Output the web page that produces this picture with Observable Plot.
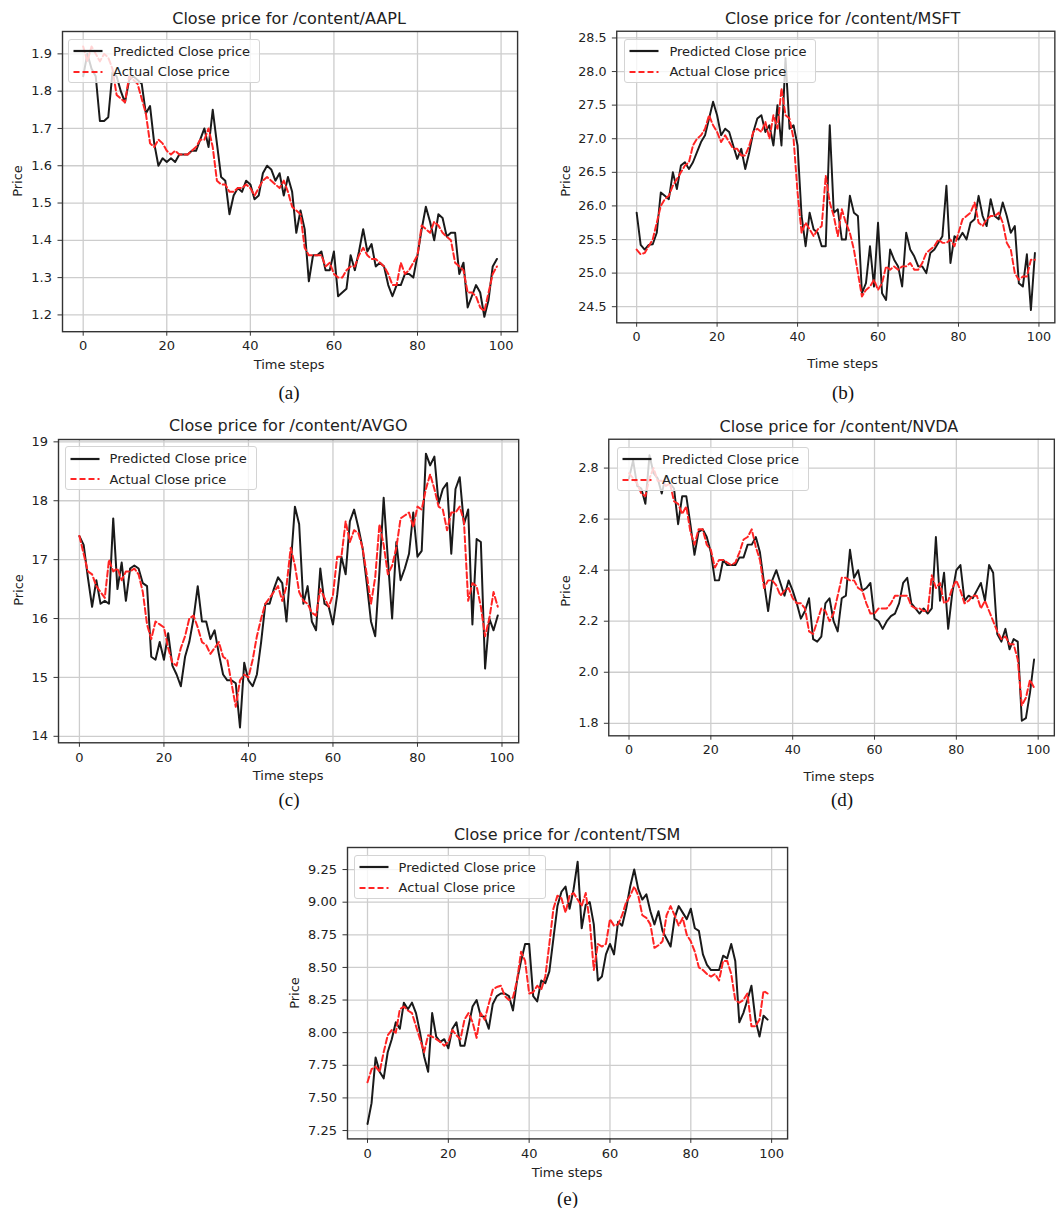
<!DOCTYPE html>
<html>
<head>
<meta charset="utf-8">
<script src="https://cdn.jsdelivr.net/npm/d3@7"></script>
<script src="https://cdn.jsdelivr.net/npm/@observablehq/plot@0.6"></script>
<style>
  html, body { margin: 0; padding: 0; background: #fff; }
  #page { position: relative; width: 1064px; height: 1208px; overflow: hidden; background: #fff; font-family: "DejaVu Sans", sans-serif; color: #222; }
  .txt { position: absolute; white-space: nowrap; line-height: 1; }
  .legend { position: absolute; background: rgba(255,255,255,0.8); border: 1px solid #d4d4d4; border-radius: 3px; box-sizing: border-box; z-index: 5; font-family: "DejaVu Sans", sans-serif; font-size: 13px; color: #222; }
  .legend .row { position: absolute; left: 0; height: 16px; display: flex; align-items: center; }
  .panel { position: absolute; }
</style>
</head>
<body>
<div id="page"></div>
<script>
// ---------- data ----------
const timeSteps = d3.range(100);
const xTicks = [0, 20, 40, 60, 80, 100];

const aaplPredicted = [1.84,1.90,1.86,1.84,1.72,1.72,1.73,1.85,1.84,1.80,
  1.77,1.83,1.84,1.83,1.82,1.74,1.76,1.66,1.60,1.62,
  1.61,1.62,1.61,1.63,1.63,1.63,1.64,1.64,1.67,1.70,
  1.65,1.75,1.66,1.57,1.56,1.47,1.52,1.54,1.53,1.56,
  1.55,1.51,1.52,1.58,1.60,1.59,1.56,1.58,1.52,1.57,
  1.53,1.42,1.48,1.43,1.29,1.36,1.36,1.37,1.32,1.32,
  1.37,1.25,1.26,1.27,1.36,1.32,1.37,1.43,1.37,1.39,
  1.33,1.34,1.33,1.28,1.25,1.28,1.28,1.31,1.31,1.30,
  1.36,1.43,1.49,1.45,1.40,1.47,1.46,1.41,1.42,1.42,
  1.31,1.34,1.22,1.25,1.28,1.26,1.195,1.24,1.33,1.35];
const aaplActual = [1.92,1.88,1.92,1.90,1.88,1.90,1.89,1.86,1.79,1.78,
  1.77,1.84,1.83,1.82,1.78,1.74,1.66,1.65,1.67,1.66,
  1.64,1.63,1.64,1.63,1.63,1.63,1.64,1.65,1.67,1.67,
  1.70,1.65,1.56,1.55,1.55,1.53,1.53,1.54,1.54,1.55,
  1.54,1.52,1.54,1.56,1.57,1.56,1.55,1.54,1.56,1.53,
  1.49,1.48,1.47,1.38,1.36,1.36,1.36,1.36,1.33,1.34,
  1.31,1.30,1.30,1.32,1.33,1.33,1.36,1.38,1.36,1.35,
  1.35,1.34,1.33,1.31,1.28,1.28,1.34,1.31,1.32,1.34,
  1.36,1.44,1.43,1.42,1.45,1.44,1.42,1.41,1.40,1.34,
  1.33,1.32,1.26,1.26,1.25,1.22,1.21,1.26,1.31,1.33];
const aaplYTicks = [1.2, 1.3, 1.4, 1.5, 1.6, 1.7, 1.8, 1.9];

const msftPredicted = [25.9,25.42,25.35,25.42,25.43,25.6,26.2,26.15,26.1,26.5,
  26.25,26.6,26.65,26.55,26.65,26.8,26.95,27.05,27.3,27.55,
  27.35,27.05,27.15,27.1,26.9,26.7,26.85,26.55,26.8,27.1,
  27.3,27.35,27.1,27.2,26.9,27.5,26.9,28.2,27.15,27.2,
  26.9,25.85,25.4,25.9,25.65,25.6,25.4,25.4,27.2,25.9,
  25.95,25.5,25.5,26.15,25.9,25.85,24.7,24.85,25.4,24.8,
  25.75,24.7,24.6,25.35,25.2,25.1,24.8,25.6,25.35,25.25,
  25.1,25.1,25.0,25.3,25.35,25.45,25.55,26.3,25.15,25.55,
  25.5,25.6,25.5,25.75,25.8,26.15,25.85,25.7,26.1,25.85,
  25.8,26.05,25.85,25.6,25.7,24.85,24.8,25.28,24.45,25.3];
const msftActual = [25.35,25.28,25.3,25.4,25.5,25.75,26.0,26.1,26.15,26.3,
  26.4,26.5,26.6,26.65,26.9,27.0,27.05,27.15,27.35,27.2,
  27.1,26.95,27.05,26.95,26.85,26.85,26.75,26.75,26.9,27.1,
  27.15,27.1,27.25,27.0,27.35,27.15,27.75,27.35,27.3,27.0,
  26.2,25.6,25.75,25.65,25.55,25.65,25.7,26.45,26.05,25.85,
  25.55,25.95,25.75,25.6,25.35,25.0,24.65,24.75,24.8,24.9,
  24.75,24.85,25.1,25.05,25.1,25.05,25.1,25.1,25.15,25.05,
  25.05,25.15,25.3,25.35,25.4,25.5,25.45,25.45,25.5,25.4,
  25.6,25.8,25.85,25.9,26.05,25.75,25.7,25.8,25.85,25.85,
  25.9,25.75,25.45,25.35,25.0,24.9,24.95,24.95,25.2,25.2];
const msftYTicks = [24.5, 25.0, 25.5, 26.0, 26.5, 27.0, 27.5, 28.0, 28.5];

const avgoPredicted = [17.4,17.25,16.7,16.2,16.65,16.25,16.3,16.25,17.7,16.5,
  16.95,16.3,16.85,16.9,16.85,16.6,16.55,15.35,15.3,15.6,
  15.3,15.75,15.2,15.05,14.85,15.35,15.6,16.0,16.55,15.95,
  15.95,15.65,15.8,15.4,15.05,14.95,14.95,14.9,14.15,15.25,
  14.95,14.85,15.05,15.6,16.25,16.25,16.5,16.7,16.6,15.95,
  16.9,17.9,17.6,16.25,16.55,15.95,15.8,16.85,16.25,16.2,
  15.9,16.4,17.05,16.75,17.65,17.85,17.55,17.2,16.6,15.95,
  15.7,16.8,18.05,17.0,16.0,17.3,16.65,16.85,17.1,17.8,
  17.05,17.15,18.8,18.6,18.75,17.95,18.2,18.3,17.1,18.2,
  18.4,17.6,17.85,15.9,17.35,17.3,15.15,16.0,15.8,16.05];
const avgoActual = [17.4,17.1,16.8,16.75,16.55,16.45,16.35,17.0,16.8,16.85,
  16.65,16.8,16.8,16.85,16.75,16.45,15.9,15.65,15.95,15.9,
  15.85,15.5,15.25,15.2,15.5,15.7,16.0,16.05,15.85,15.6,
  15.55,15.4,15.5,15.6,15.35,15.3,14.9,14.5,14.95,15.05,
  15.0,15.3,15.7,16.0,16.25,16.35,16.45,16.55,16.3,16.55,
  17.2,16.9,16.45,16.3,16.25,16.1,16.05,16.5,16.35,16.2,
  16.4,17.05,17.05,17.65,17.3,17.5,17.45,17.2,16.75,16.25,
  16.7,17.6,17.25,16.75,16.9,17.2,17.7,17.75,17.8,17.55,
  17.9,17.85,18.2,18.45,18.2,17.9,17.85,17.5,17.8,17.8,
  17.9,17.65,16.3,16.6,16.55,16.2,15.7,16.0,16.45,16.2];
const avgoYTicks = [14, 15, 16, 17, 18, 19];

const nvdaPredicted = [2.76,2.83,2.73,2.72,2.66,2.85,2.78,2.76,2.70,2.77,
  2.74,2.72,2.58,2.69,2.69,2.58,2.46,2.55,2.56,2.53,
  2.47,2.36,2.36,2.44,2.42,2.42,2.42,2.45,2.45,2.50,
  2.50,2.53,2.47,2.35,2.24,2.36,2.40,2.35,2.30,2.36,
  2.32,2.27,2.21,2.24,2.29,2.13,2.12,2.14,2.27,2.29,
  2.20,2.16,2.29,2.30,2.48,2.37,2.40,2.32,2.33,2.35,
  2.21,2.20,2.17,2.20,2.22,2.23,2.27,2.35,2.37,2.27,
  2.25,2.23,2.25,2.23,2.25,2.53,2.28,2.39,2.17,2.31,
  2.40,2.42,2.28,2.30,2.29,2.32,2.35,2.28,2.42,2.39,
  2.15,2.12,2.17,2.09,2.13,2.12,1.81,1.82,1.92,2.05];
const nvdaActual = [2.78,2.76,2.74,2.70,2.69,2.76,2.80,2.75,2.75,2.73,
  2.74,2.67,2.66,2.62,2.65,2.55,2.50,2.56,2.56,2.50,
  2.48,2.41,2.44,2.44,2.43,2.42,2.43,2.47,2.52,2.53,
  2.56,2.49,2.44,2.33,2.36,2.36,2.34,2.30,2.32,2.33,
  2.29,2.27,2.27,2.25,2.16,2.15,2.20,2.25,2.24,2.20,
  2.23,2.30,2.37,2.37,2.36,2.36,2.33,2.32,2.27,2.23,
  2.23,2.25,2.25,2.25,2.27,2.30,2.30,2.30,2.30,2.26,
  2.25,2.25,2.24,2.24,2.38,2.33,2.35,2.27,2.28,2.33,
  2.36,2.32,2.27,2.28,2.30,2.30,2.25,2.28,2.24,2.20,
  2.16,2.13,2.14,2.11,2.11,2.05,1.87,1.90,1.97,1.94];
const nvdaYTicks = [1.8, 2.0, 2.2, 2.4, 2.6, 2.8];

const tsmPredicted = [7.30,7.46,7.81,7.70,7.65,7.85,7.95,8.08,8.03,8.23,
  8.18,8.23,8.15,8.00,7.82,7.70,8.15,7.97,7.93,7.95,
  7.88,8.03,8.08,7.90,7.90,8.05,8.20,8.25,8.13,8.12,
  8.03,8.22,8.28,8.30,8.30,8.28,8.17,8.40,8.55,8.68,
  8.68,8.28,8.24,8.40,8.38,8.47,8.72,8.97,9.08,9.12,
  8.95,9.10,9.31,8.80,8.98,9.00,8.83,8.40,8.43,8.60,
  8.68,8.60,8.85,8.82,8.95,9.12,9.25,9.10,9.02,9.06,
  8.93,8.83,8.93,8.78,8.72,8.66,8.88,8.97,8.92,8.87,
  8.95,8.80,8.78,8.60,8.52,8.48,8.48,8.48,8.59,8.57,
  8.68,8.55,8.08,8.15,8.25,8.36,8.10,7.97,8.13,8.10];
const tsmActual = [7.62,7.72,7.74,7.70,7.85,7.98,8.02,8.00,8.18,8.20,
  8.17,8.15,8.05,7.95,7.85,7.98,7.97,7.95,7.93,7.90,
  7.93,8.02,7.98,7.95,8.10,8.15,8.08,7.96,8.15,8.10,
  8.22,8.33,8.35,8.36,8.28,8.25,8.27,8.40,8.62,8.55,
  8.30,8.31,8.36,8.33,8.43,8.68,8.95,9.05,9.03,8.92,
  9.05,9.07,9.02,8.97,9.07,8.85,8.48,8.68,8.66,8.68,
  8.87,8.82,8.83,8.90,9.00,9.05,9.12,9.05,8.90,8.88,
  8.83,8.65,8.67,8.70,8.90,8.97,8.90,8.82,8.88,8.75,
  8.70,8.62,8.50,8.48,8.45,8.43,8.45,8.40,8.55,8.55,
  8.45,8.25,8.23,8.25,8.30,8.05,8.05,8.10,8.32,8.30];
const tsmYTicks = [7.25, 7.50, 7.75, 8.00, 8.25, 8.50, 8.75, 9.00, 9.25];

const predictedLabel = "Predicted Close price";
const actualLabel = "Actual Close price";

// ---------- layout (positions, not data) ----------
const panels = [
  {name: "AAPL", pred: aaplPredicted, act: aaplActual, yTicks: aaplYTicks, fmt: ".1f", yDomain: [1.155, 1.96],
   frame: {l: 61.5, t: 31.1, r: 516.6, b: 331.3}, priceX: 16.5, cap: "(a)", capX: 289, capY: 392},
  {name: "MSFT", pred: msftPredicted, act: msftActual, yTicks: msftYTicks, fmt: ".1f", yDomain: [24.26, 28.6],
   frame: {l: 617.9, t: 31.3, r: 1067.3, b: 330.4}, priceX: 564.7, cap: "(b)", capX: 843, capY: 392},
  {name: "AVGO", pred: avgoPredicted, act: avgoActual, yTicks: avgoYTicks, fmt: "d", yDomain: [13.89, 19.04],
   frame: {l: 58.1, t: 438.8, r: 518.3, b: 742.1}, priceX: 17.6, cap: "(c)", capX: 289, capY: 799},
  {name: "NVDA", pred: nvdaPredicted, act: nvdaActual, yTicks: nvdaYTicks, fmt: ".1f", yDomain: [1.751, 2.913],
   frame: {l: 610.4, t: 439.1, r: 1067.3, b: 743.2}, priceX: 564.7, cap: "(d)", capX: 842, capY: 799},
  {name: "TSM", pred: tsmPredicted, act: tsmActual, yTicks: tsmYTicks, fmt: ".2f", yDomain: [7.186, 9.419],
   frame: {l: 347.1, t: 847.1, r: 787.2, b: 1138.5}, priceX: 294.3, cap: "(e)", capX: 567.5, capY: 1198}
];

const page = document.getElementById("page");

function addText(txt, x, y, opts = {}) {
  const d = document.createElement("div");
  d.className = "txt";
  d.textContent = txt;
  d.style.left = x + "px";
  d.style.top = y + "px";
  d.style.fontSize = (opts.size || 13) + "px";
  d.style.fontFamily = opts.family || '"DejaVu Sans", sans-serif';
  d.style.transform = "translate(-50%,-50%)" + (opts.rotate ? " rotate(-90deg)" : "");
  if (opts.color) d.style.color = opts.color;
  page.appendChild(d);
}

const M = {l: 70, r: 10, t: 10, b: 40};

for (const p of panels) {
  const fw = p.frame.r - p.frame.l;
  const fh = p.frame.b - p.frame.t;
  const predRows = timeSteps.map((t, i) => ({t, v: p.pred[i]}));
  const actRows = timeSteps.map((t, i) => ({t, v: p.act[i]}));
  const chart = Plot.plot({
    width: fw + M.l + M.r,
    height: fh + M.t + M.b,
    marginLeft: M.l, marginRight: M.r, marginTop: M.t, marginBottom: M.b,
    x: {domain: [-4.95, 103.95]},
    y: {domain: p.yDomain},
    style: {fontFamily: '"DejaVu Sans", sans-serif', fontSize: "13px", color: "#222", background: "transparent", overflow: "visible"},
    marks: [
      Plot.gridX(xTicks, {stroke: "#cdcdcd", strokeOpacity: 1, strokeWidth: 1.3}),
      Plot.gridY(p.yTicks, {stroke: "#cdcdcd", strokeOpacity: 1, strokeWidth: 1.3}),
      Plot.line(predRows, {x: "t", y: "v", stroke: "#1a1a1a", strokeWidth: 2, clip: true}),
      Plot.line(actRows, {x: "t", y: "v", stroke: "#ff2424", strokeWidth: 2, strokeDasharray: "6,3", clip: true}),
      Plot.frame({stroke: "#333", strokeWidth: 1.4}),
      Plot.axisX(xTicks, {tickSize: 4.5, tickPadding: 5, label: null, stroke: "#333", fill: "#222", fontSize: 13}),
      Plot.axisY(p.yTicks, {tickSize: 4.5, tickPadding: 6, label: null, tickFormat: d3.format(p.fmt), stroke: "#333", fill: "#222", fontSize: 13})
    ]
  });
  const wrap = document.createElement("div");
  wrap.className = "panel";
  wrap.style.left = (p.frame.l - M.l) + "px";
  wrap.style.top = (p.frame.t - M.t) + "px";
  wrap.appendChild(chart);
  page.appendChild(wrap);

  const cx = (p.frame.l + p.frame.r) / 2;
  const cy = (p.frame.t + p.frame.b) / 2;
  addText("Close price for /content/" + p.name, cx, p.frame.t - 12.5, {size: 16});
  addText("Time steps", cx, p.frame.b + 33, {size: 13});
  addText("Price", p.priceX, cy, {size: 13, rotate: true});
  addText(p.cap, p.capX, p.capY, {size: 19, family: '"Liberation Serif", "DejaVu Serif", serif', color: "#111"});

  // legend
  const lg = document.createElement("div");
  lg.className = "legend";
  lg.style.left = (p.frame.l + 6.5) + "px";
  lg.style.top = (p.frame.t + 7.5) + "px";
  lg.style.width = "192px";
  lg.style.height = "44px";
  const rows = [
    {label: predictedLabel, stroke: "#1a1a1a", dash: null, y: 3.5},
    {label: actualLabel, stroke: "#ff2424", dash: "6,3", y: 24}
  ];
  for (const r of rows) {
    const row = document.createElement("div");
    row.className = "row";
    row.style.top = r.y + "px";
    const ns = "http://www.w3.org/2000/svg";
    const s = document.createElementNS(ns, "svg");
    s.setAttribute("width", "44");
    s.setAttribute("height", "16");
    const ln = document.createElementNS(ns, "line");
    ln.setAttribute("x1", "4.5"); ln.setAttribute("x2", "33.5");
    ln.setAttribute("y1", "8"); ln.setAttribute("y2", "8");
    ln.setAttribute("stroke", r.stroke);
    ln.setAttribute("stroke-width", "2.2");
    if (r.dash) ln.setAttribute("stroke-dasharray", r.dash);
    s.appendChild(ln);
    row.appendChild(s);
    const sp = document.createElement("span");
    sp.textContent = r.label;
    row.appendChild(sp);
    lg.appendChild(row);
  }
  page.appendChild(lg);
}
</script>
</body>
</html>
